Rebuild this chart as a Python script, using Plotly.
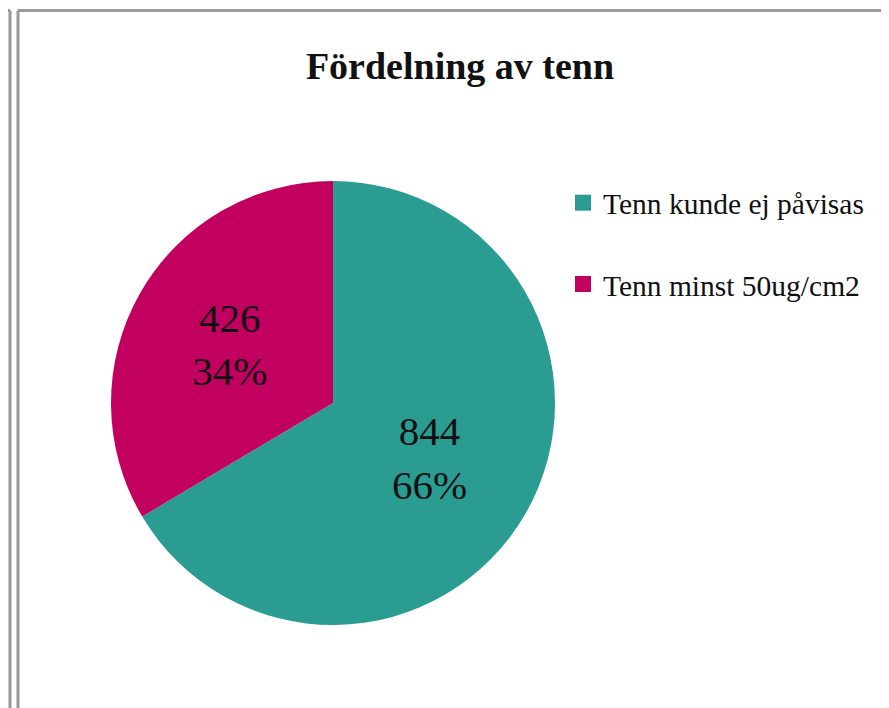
import plotly.graph_objects as go

categories = ["Tenn kunde ej påvisas", "Tenn minst 50ug/cm2"]
values = [844, 426]
colors = ["#2A9C92", "#C2005F"]
title_text = "Fördelning av tenn"

# page body has a default 8px margin; work in window pixel coordinates
OFF = 8
W, H = 889 - OFF, 708 - OFF
def px(x):
    return (x - OFF) / W
def py(y):
    return 1 - (y - OFF) / H

SERIF = "Liberation Serif, Times New Roman, serif"

fig = go.Figure()
fig.add_trace(go.Pie(
    labels=categories,
    values=values,
    sort=False,
    direction="clockwise",
    rotation=0,
    marker=dict(colors=colors, line=dict(width=0)),
    texttemplate="%{value}<br>%{percent:.0%}",
    textposition="inside",
    insidetextorientation="horizontal",
    textfont=dict(family=SERIF, size=41, color="#111111"),
    domain=dict(x=[px(111), px(555)], y=[py(625), py(181)]),
    showlegend=False,
    hoverinfo="label+value+percent",
))

for i, (name, col) in enumerate(zip(categories, colors)):
    fig.add_trace(go.Scatter(
        x=[None], y=[None], mode="markers", name=name,
        marker=dict(symbol="square", size=16, color=col),
        legendgroup=f"g{i}", showlegend=True,
    ))

line_style = dict(color="#9a9a9a", width=3)
shapes = [
    dict(type="line", xref="paper", yref="paper", x0=px(8), y0=py(10.5), x1=px(10), y1=py(10.5), line=line_style),
    dict(type="line", xref="paper", yref="paper", x0=px(10), y0=py(10.5), x1=px(10), y1=py(708), line=line_style),
    dict(type="line", xref="paper", yref="paper", x0=px(18), y0=py(10.5), x1=px(889), y1=py(10.5), line=line_style),
    dict(type="line", xref="paper", yref="paper", x0=px(18), y0=py(10.5), x1=px(18), y1=py(708), line=line_style),
]

fig.update_layout(
    width=W, height=H,
    margin=dict(l=0, r=0, t=0, b=0),
    paper_bgcolor="white", plot_bgcolor="white",
    font=dict(family=SERIF, color="#111111"),
    title=dict(text="<b>" + title_text + "</b>", x=px(460), xanchor="center",
               y=py(66), yanchor="middle",
               font=dict(family=SERIF, size=38, color="#111111")),
    xaxis=dict(visible=False), yaxis=dict(visible=False),
    legend=dict(x=px(563), xanchor="left", y=py(177), yanchor="top",
                font=dict(family=SERIF, size=29.5, color="#111111"),
                tracegroupgap=40, bgcolor="rgba(0,0,0,0)"),
    shapes=shapes,
)

fig.write_html("out.html")
